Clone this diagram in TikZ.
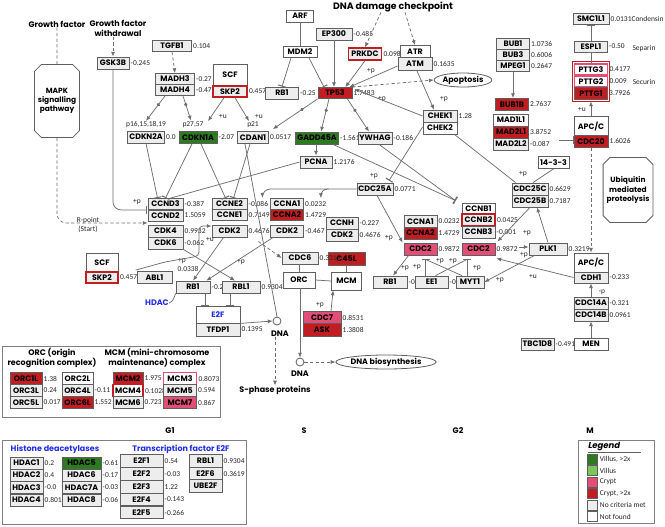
\documentclass[tikz,border=0pt]{standalone}
\usepackage{fontspec}
\setmainfont{Poppins}
\newfontfamily\valfont{Carlito}
\usetikzlibrary{arrows.meta,shapes.misc,shapes.geometric,decorations.markings,calc}
\definecolor{lnc}{RGB}{110,110,110}
\definecolor{bdr}{RGB}{95,95,95}
\definecolor{gfill}{RGB}{237,237,237}
\definecolor{kred}{RGB}{194,30,34}
\definecolor{kpink}{RGB}{226,78,118}
\definecolor{dgrn}{RGB}{46,122,32}
\definecolor{lgrn}{RGB}{122,198,86}
\definecolor{kblue}{RGB}{35,45,225}
\newcommand\gn[5][]{\node[gene,#1] (#2) at (#3,#4) {#5};}
\begin{document}
\begin{tikzpicture}[x=0.75pt,y=-0.75pt,
  gene/.style={draw=bdr,line width=0.6pt,fill=gfill,inner sep=0pt,minimum width=33*0.75pt,minimum height=12*0.75pt,font=\fontsize{5.9}{7}\selectfont\bfseries},
  bw/.style={minimum width=#1*0.75pt},
  bh/.style={minimum height=#1*0.75pt},
  wf/.style={fill=white},
  redf/.style={fill=kred},
  pinkf/.style={fill=kpink},
  grnf/.style={fill=dgrn},
  redb/.style={draw=kred,line width=1.1pt},
  pinkb/.style={draw=kpink,line width=1.1pt},
  val/.style={font=\valfont\fontsize{5.6}{6.5}\selectfont,inner sep=0.8pt,text=black!85},
  vl/.style={label={[val]east:#1}},
  tx/.style={font=\valfont\fontsize{5.6}{6.5}\selectfont,inner sep=0.5pt,text=black!85,align=center},
  ttl/.style={font=\fontsize{6}{7.4}\selectfont\bfseries,inner sep=0pt,align=center},
  oct/.style={draw=bdr,line width=0.6pt,chamfered rectangle,chamfered rectangle xsep=2.6pt,chamfered rectangle ysep=2.6pt,align=center,inner sep=0pt,font=\fontsize{5.6}{6.8}\selectfont\bfseries},
  ell/.style={draw=bdr,line width=0.6pt,ellipse,inner sep=0pt,font=\fontsize{5.9}{7}\selectfont\bfseries},
  ln/.style={draw=lnc,line width=0.55pt},
  arr/.style={ln,-{Latex[length=3.6pt,width=3pt]}},
  inh/.style={ln,-{Bar[width=6pt,line width=0.8pt]}},
  dsh/.style={ln,dash pattern=on 2.4pt off 1.8pt},
  darr/.style={dsh,-{Latex[length=3.6pt,width=3pt]}},
  dotm/.style={postaction={decorate,decoration={markings,mark=at position 0.35 with {\fill[lnc] (0,0) circle[radius=1.4pt];}}}},
  blu/.style={text=kblue},
  frame/.style={draw=bdr!80,line width=0.6pt,inner sep=0pt},
  dnac/.style={circle,draw=bdr,line width=0.6pt,minimum size=8*0.75pt,inner sep=0pt,fill=white},
]
\useasboundingbox (0,0) rectangle (665,526);
\fill[white] (0,0) rectangle (665,526);

% ---------- top left ----------
\node[ttl] (tgf0) at (57,24) {Growth factor};
\node[ttl] (tgfw) at (118,28.5) {Growth factor\\withdrawal};
\node[oct,minimum width=39*0.75pt,minimum height=73*0.75pt] (mapk) at (57,101) {MAPK\\signalling\\pathway};
\gn[bw=32,vl=-0.245]{gsk}{113}{63}{GSK3B}
\gn[bw=39,bh=11,vl=0.104]{tgf}{172}{46}{TGFB1}
\gn[bw=39,bh=11,vl=-0.27]{madh3}{175}{79}{MADH3}
\gn[bw=39,bh=11,vl=-0.472]{madh4}{175}{90}{MADH4}
\gn[bw=34,bh=22,wf]{scfa}{230}{75}{SCF}
\gn[bw=34,bh=11,redb,vl=0.4577]{skpa}{230}{91.5}{SKP2}
\gn[bw=27,wf]{arf}{300}{16}{ARF}
\gn[bw=34,bh=11,wf]{mdm}{300}{52}{MDM2}
\gn[bw=33,vl=-0.25]{rbt}{282}{93}{RB1}
\gn[bw=36,vl=-0.485]{ep}{334}{34}{EP300}
\gn[bw=33,redb,vl=0.0984]{prk}{365}{54}{PRKDC}
\gn[bw=30,wf]{atr}{415}{51.5}{ATR}
\gn[bw=34,bh=13,vl=0.1635]{atm}{415}{64}{ATM}
\gn[bw=34,bh=11,redf,vl=1.7483]{tp}{335}{93}{TP53}
\node[ttl,font=\fontsize{7}{8}\selectfont\bfseries] (ddc) at (393,7) {DNA damage checkpoint};
\node[ell,minimum width=50*0.75pt,minimum height=14*0.75pt] (apop) at (463,80) {Apoptosis};
\gn[bw=34,vl=1.28]{chka}{440}{116}{CHEK1}
\gn[bw=34,wf]{chkb}{440}{128}{CHEK2}
\gn[bw=37,vl=0.0]{p16b}{146}{137}{CDKN2A}
\gn[bw=38,grnf,vl=-2.07]{p27b}{198}{137.5}{CDKN1A}
\gn[bw=31,vl=0.0517]{p21b}{253}{137.5}{CDAN1}
\gn[bw=43,grnf,vl=-1.561]{gad}{317}{138}{GADD45A}
\gn[bw=34,vl=-0.186]{ywh}{375}{138}{YWHAG}
\gn[bw=32,vl=1.2176]{pcna}{316}{162}{PCNA}
\node[tx] (p16) at (146,125) {p16,15,18,19};
\node[tx] (p27) at (193,124.5) {p27,57};
\node[tx] (p21) at (253,125) {p21};
\node[tx] (u1) at (223,116) {+u};
\node[tx] (u2) at (259,116) {+u};
\node[tx] (pp1) at (371,71) {+p};
\node[tx] (pp2) at (382,99) {+p};
\node[tx] (pp3) at (444,99) {+p};

% ---------- top right ----------
\gn[bw=33,bh=11,vl=1.0736]{bub1}{513}{44}{BUB1}
\gn[bw=33,bh=11,vl=0.6006]{bub3}{513}{55}{BUB3}
\gn[bw=33,bh=11,vl=0.2647]{mpeg}{513}{66}{MPEG1}
\gn[bw=33,redf,vl=2.7637]{bub1b}{512}{104.5}{BUB1B}
\gn[bw=35,wf]{mad1}{511}{120}{MAD1L1}
\gn[bw=35,redf,vl=3.8752]{mad2a}{511}{132}{MAD2L1}
\gn[bw=35,vl=-0.087]{mad2b}{511}{144}{MAD2L2}
\gn[bw=36,bh=11,vl=0.0131Condensin]{smc}{591}{19}{SMC1L1}
\gn[bw=33,bh=11,vl=-0.50]{espl}{591}{46.5}{ESPL1}
\node[tx] (sep) at (644,49) {Separin};
\gn[bw=33,bh=11,wf,pinkb,vl=0.4177]{pt3}{591}{69.5}{PTTG3}
\gn[bw=33,bh=11,wf,pinkb,vl=0.009]{pt2}{591}{81.5}{PTTG2}
\gn[bw=33,bh=12,redf,vl=3.7926]{pt1}{591}{93.5}{PTTG1}
\draw[kred,line width=0.8pt] ($(pt3.north west)+(-1.5,-1.5)$) rectangle ($(pt1.south east)+(1.5,1.5)$);
\node[tx] (secu) at (644,82) {Securin};
\gn[bw=34,bh=19,wf]{apca}{591}{126}{APC/C}
\gn[bw=34,redf,vl=1.6026]{cdc20}{591}{141.5}{CDC20}
\gn[bw=31,wf]{b1433}{553.5}{162.5}{14-3-3}
\node[oct,minimum width=49*0.75pt,minimum height=65*0.75pt] (ubq) at (628,190) {Ubiquitin\\mediated\\proteolysis};
\gn[bw=36,vl=0.6629]{c25c}{530}{189}{CDC25C}
\gn[bw=36,vl=0.7187]{c25b}{530}{201}{CDC25B}
\gn[bw=38,vl=0.3219]{plk}{548}{249}{PLK1}
\gn[bw=34,bh=19,wf]{apcb}{591}{262.5}{APC/C}
\gn[bw=34,bh=11,vl=-0.233]{cdh}{591}{277.5}{CDH1}
\gn[bw=34,vl=-0.321]{c14a}{591}{303}{CDC14A}
\gn[bw=34,vl=0.0961]{c14b}{591}{315}{CDC14B}
\gn[bw=34,wf]{men}{591}{344}{MEN}
\gn[bw=33,vl=-0.491]{tbc}{537.5}{344}{TBC1D8}

% ---------- G2 ----------
\gn[bw=36,vl=0.0771]{c25a}{375}{189}{CDC25A}
\gn[bw=33,bh=11,wf]{cb1}{478.5}{208.5}{CCNB1}
\gn[bw=33,redb,vl=0.0425]{cb2}{478.5}{220}{CCNB2}
\gn[bw=33,vl=-0.001]{cb3}{478.5}{232}{CCNB3}
\gn[bw=33,pinkf,vl=0.9872]{c2r}{478.5}{249}{CDC2}
\gn[bw=33,vl=0.0232]{ca1g}{420.5}{221.5}{CCNA1}
\gn[bw=33,redf,vl=1.4729]{ca2g}{420.5}{233}{CCNA2}
\gn[bw=33,pinkf,vl=0.9872]{c2l}{420.5}{249}{CDC2}
\gn[bw=34,vl=-0.25]{rbg}{390}{282}{RB1}
\gn[bw=33,vl=-0.0]{ee}{431.5}{282}{EE1}
\gn[bw=28]{myt}{470}{282}{MYT1}

% ---------- S ----------
\gn[bw=37,bh=13,redf]{c45}{346.5}{258.5}{C45L}
\gn[bw=36,vl=0.3319]{cdc6}{300}{258}{CDC6}
\gn[bw=32,bh=16,wf]{orc}{299}{280}{ORC}
\gn[bw=30,bh=18,wf]{mcm}{346.5}{281}{MCM}
\gn[bw=38,pinkf,vl=0.8531]{cdc7}{322}{317.5}{CDC7}
\gn[bw=38,bh=13,redf,vl=1.3808]{ask}{322}{330}{ASK}
\node[dnac] (dna1) at (277,321) {};
\node[ttl] (dna1t) at (280,333.5) {DNA};
\node[dnac] (dna2) at (300,362) {};
\node[ttl] (dna2t) at (300,373.5) {DNA};
\node[ttl] (sph) at (275,390) {S-phase proteins};
\node[ell,minimum width=72*0.75pt,minimum height=14*0.75pt] (dnab) at (386,362) {DNA biosynthesis};

% ---------- G1 ----------
\gn[bw=35,bh=11,vl=-0.387]{cd3}{165.5}{204}{CCND3}
\gn[bw=35,bh=11,vl=1.5059]{cd2}{165.5}{215.5}{CCND2}
\gn[bw=35,vl=0.9932]{k4}{165.5}{231}{CDK4}
\gn[bw=35,vl=-0.062]{k6}{165.5}{243}{CDK6}
\gn[bw=35,bh=11,vl=-0.086]{ce2}{229.5}{204}{CCNE2}
\gn[bw=35,bh=11,vl=0.7149]{ce1}{229.5}{215}{CCNE1}
\gn[bw=35,vl=0.4676]{k2e}{229.5}{231}{CDK2}
\gn[bw=33,bh=11,vl=0.0232]{ca1}{287}{204}{CCNA1}
\gn[bw=33,bh=11,redf,vl=1.4729]{ca2}{287}{215}{CCNA2}
\gn[bw=33,vl=-0.467]{k2a}{287}{231}{CDK2}
\gn[bw=32,vl=-0.227]{ccnh}{342}{223}{CCNH}
\gn[bw=32,vl=0.4676]{k2h}{342}{235}{CDK2}
\node[tx] (pp4) at (389,238) {+p};
\gn[bw=32,bh=19,wf]{scfb}{102}{262.5}{SCF}
\gn[bw=32,bh=11,redb,vl=0.4577]{skpb}{102}{277.5}{SKP2}
\gn[bw=35]{abl}{154.5}{277.5}{ABL1}
\node[tx] (v0338) at (188,268.5) {0.0338};
\gn[bw=34,vl=-0.2]{rb1}{193}{287}{RB1}
\gn[bw=38,vl=0.9304]{rbl}{241}{287}{RBL1}
\node[ttl,blu] (hdac) at (157,303) {HDAC};
\gn[bw=44,bh=17,wf,blu]{e2f}{218}{314.5}{E2F}
\gn[bw=44,bh=13,vl=0.1395]{tfdp}{218}{329.5}{TFDP1}
\node[tx] (rpt) at (88,225) {R-point\\(Start)};
\node[tx] (pp5) at (137,202) {+p};
\node[tx] (uu3) at (210,239) {+u};
\node[tx] (pp6) at (182,261) {+p};
\node[tx] (pp7) at (241,262) {+p};

% ---------- bottom panels ----------
\node[frame,minimum width=218*0.75pt,minimum height=71*0.75pt] (orcbox) at (111,381.5) {};
\node[ttl] (orct) at (52,358) {ORC (origin\\recognition complex)};
\node[ttl] (mcmt) at (157,358) {MCM (mini-chromosome\\maintenance) complex};
\gn[bw=32,bh=11.5,redf,vl=1.38]{o1}{26}{378.5}{ORC1L}
\gn[bw=32,bh=11.5,vl=0.24]{o3}{26}{390.5}{ORC3L}
\gn[bw=32,bh=11.5,vl=0.017]{o5}{26}{402.5}{ORC5L}
\gn[bw=31,bh=11.5,wf]{o2}{77.5}{378.5}{ORC2L}
\gn[bw=31,bh=11.5,vl=-0.11]{o4}{77.5}{390.5}{ORC4L}
\gn[bw=31,bh=11.5,redf,vl=1.552]{o6}{77.5}{402.5}{ORC6L}
\gn[bw=30,bh=11.5,redf,vl=1.975]{m2}{128}{378.5}{MCM2}
\gn[bw=30,bh=11.5,wf,redb,vl=0.1028]{m4}{128}{390.5}{MCM4}
\gn[bw=30,bh=11.5,vl=0.723]{m6}{128}{402.5}{MCM6}
\gn[bw=33,bh=11.5,wf,pinkb,vl=0.8073]{m3}{180}{378.5}{MCM3}
\gn[bw=33,bh=11.5,vl=0.594]{m5}{180}{390.5}{MCM5}
\gn[bw=33,bh=11.5,pinkf,vl=0.867]{m7}{180}{402.5}{MCM7}

\node[frame,minimum width=244*0.75pt,minimum height=84*0.75pt] (hdbox) at (124,482) {};
\node[ttl,blu] (hdt) at (55,449) {Histone deacetylases};
\node[ttl,blu] (e2t) at (181,449) {Transcription factor E2F};
\gn[bw=33,vl=0.2]{h1}{26.5}{463}{HDAC1}
\gn[bw=33,vl=0.4]{h2}{26.5}{475}{HDAC2}
\gn[bw=33,vl=-0.0]{h3}{26.5}{487.5}{HDAC3}
\gn[bw=33,vl=0.801]{h4}{26.5}{500}{HDAC4}
\gn[bw=39,grnf,vl=-0.61]{h5}{81.5}{463}{HDAC5}
\gn[bw=39,vl=-0.17]{h6}{81.5}{475}{HDAC6}
\gn[bw=39,vl=-0.03]{h7}{81.5}{487.5}{HDAC7A}
\gn[bw=39,vl=-0.06]{h8}{81.5}{500}{HDAC8}
\gn[bw=43,bh=12.5,vl=0.54]{f1}{141.5}{461}{E2F1}
\gn[bw=43,bh=12.5,vl=-0.03]{f2}{141.5}{474}{E2F2}
\gn[bw=43,bh=12.5,vl=1.22]{f3}{141.5}{487}{E2F3}
\gn[bw=43,bh=12.5,vl=-0.143]{f4}{141.5}{499.5}{E2F4}
\gn[bw=43,bh=12.5,vl=-0.266]{f5}{141.5}{512.5}{E2F5}
\gn[bw=33,bh=12.5,vl=0.9304]{rblb}{205.5}{461}{RBL1}
\gn[bw=33,bh=12.5,vl=0.3619]{f6}{205.5}{473.5}{E2F6}
\gn[bw=33,bh=12.5]{ube}{205.5}{486}{UBE2F}

\node[ttl] (g1) at (170,431) {G1};
\node[ttl] (gs) at (304,431) {S};
\node[ttl] (g2) at (458,431) {G2};
\node[ttl] (gm) at (590,431) {M};

% legend
\node[frame,minimum width=76*0.75pt,minimum height=83*0.75pt] (lgb) at (616,481.5) {};
\node[font=\fontsize{6.4}{8}\selectfont\bfseries\itshape,anchor=west,inner sep=0pt] (lgt) at (588,447) {Legend};
\draw[bdr,line width=0.6pt] (588,452.5) -- (641,452.5);
\foreach \c/\t/\y/\n in {dgrn/{Villus, >2x}/459/1, lgrn/Villus/470.5/2, kpink/Crypt/482/3, kred/{Crypt, >2x}/493.5/4, gfill/No criteria met/505/5, white/Not found/516.5/6}{
  \node[draw=bdr,line width=0.5pt,fill=\c,minimum size=10*0.75pt,inner sep=0pt] (sw\n) at (592,\y) {};
  \node[tx,anchor=west] (swt\n) at (599,\y) {\t};
}

% ---------- connectors ----------
\draw[dsh] (tgf0) -- (mapk);
\draw[darr,rounded corners=7pt] (mapk.south) |- ($(cd2.south west)!0.5!(k4.north west)$);
\draw[darr] (gsk.north |- tgfw.south) -- (gsk.north);
\draw[inh,rounded corners=6pt] (gsk.south) |- ($(cd3.south west)+(-1,0)$);
\draw[darr] (tgf.south) -- (madh3.north);
\draw[arr,dotm] ($(madh4.south)+(-10,0)$) -- (p16.north);
\draw[arr,dotm] ($(madh4.south)+(8,0)$) -- ($(p27.north)+(-2,0)$);
\draw[arr] ($(skpa.south)+(-6,0)$) -- ($(p27b.north)+(10,-10)$);
\draw[arr] ($(skpa.south)+(5,0)$) -- ($(p21.north)+(-4,0)$);
\draw[ln] (arf) -- (mdm);
\draw[inh] ($(mdm.south)+(-9,0)$) -- (rbt.north);
\draw[inh] ($(mdm.south)+(9,0)$) -- ($(tp.north)+(-11,0)$);
\draw[arr] (ep.south) -- (ep.south |- tp.north);
\draw[arr] (prk.south) -- ($(tp.north east)+(-7,0)$);
\draw[arr] ($(atm.west)+(0,2)$) -- ($(tp.north east)+(-3,0)$);
\draw[darr] (tp.north east) -- (apop.west);
\draw[darr] ($(ddc.south)+(-12,0)$) -- (prk.north);
\draw[darr] ($(ddc.south)+(12,0)$) -- (atr.north);
\draw[arr] ($(atm.south)+(2,0)$) -- ($(chka.north)+(-6,0)$);
\draw[arr] (chka.west) -- ($(tp.north east)+(2,2)$);
\draw[arr,dotm] (tp.south west) -- ($(p21b.north east)+(4,-2)$);
\draw[arr,dotm] ($(tp.south)+(-6,0)$) -- ($(gad.north)+(4,0)$);
\draw[arr,dotm] ($(tp.south east)+(-5,0)$) -- ($(ywh.north)+(-6,0)$);
\draw[arr] (pcna.north |- gad.south) -- (pcna.north);
\draw[arr] (mpeg.south) -- (mpeg.south |- bub1b.north);
\coordinate (madr) at (559,140);
\draw[inh] (madr) -- (madr -| cdc20.west);
\draw[inh] (espl.north) -- (smc.south);
\draw[inh] (pt3.north) -- (espl.south);
\draw[arr] (apca.north) -- ($(pt1.south)+(0,1.5)$);
\node[tx] (uu4) at (582,109.5) {+u};
\draw[darr] (cdc20.south) -- (apcb.north);
\draw[ln] (b1433.south) -- ($(c25c.north)+(3,0)$);
\draw[ln] ($(chkb.south east)+(-3,0)$) -- ($(c25c.north west)+(4,0)$);
\node[tx] (pp8) at (523,174) {+p};
\draw[arr] (plk.north) -- ($(c25b.south)+(7,0)$);
\draw[arr] (c25b.south) -- ($(c2r.north east)+(2,-1)$);
\node[tx] (pp10) at (527,233) {+p};
\coordinate (c2pl) at (519,247);
\draw[arr] (c2pl) -- (c2pl -| plk.west);
\node[tx] (pp11) at (524,255) {+p};
\draw[arr] (cdh.west) -- ($(c2r.south east)+(1,3)$);
\node[tx] (uu5) at (533,276) {+u};
\draw[arr] ($(plk.south west)+(6,0)$) -- (myt.east);
\node[tx] (pp12) at (500,280) {+p};
\draw[arr] (c14a.north) -- (cdh.south);
\node[tx] (mp) at (602,292) {-p};
\draw[arr] (men.north) -- (c14b.south);
\draw[arr] ($(c25a.south)+(2,0)$) -- ($(c2l.north west)+(-1,0)$);
\draw[inh] ($(chkb.west)+(0,-1)$) -- ($(c25a.north)+(14,-2)$);
\node[tx] (pp13) at (374,176) {+p};
\draw[arr] ($(c2l.south west)+(5,0)$) -- ($(rbg.north)+(3,0)$);
\node[tx] (pp14) at (405,268) {+p};
\coordinate (bl) at ($(c2l.south)+(5,4)$);
\coordinate (br) at ($(c2r.south)+(-11.5,4)$);
\draw[inh] (bl |- ee.north) -- (bl);
\draw[ln] ($(ee.north)+(4,0)$) -- (br);
\draw[inh] (br |- myt.north) -- (br);
\draw[ln] ($(myt.north)+(-8,0)$) -- (bl);
\node[tx] (pp16) at (417,267) {+p};
\node[tx] (pp17) at (440,261) {+p};
\node[tx] (pp18) at (453,261) {+p};
\node[tx] (pp19) at (477,268) {+p};
\coordinate (cbb) at ($(cb1.north west)+(-6,-2)$);
\draw[inh] ($(gad.south east)+(-6,0)$) -- (cbb);
\draw[inh] ($(ywh.south)+(4,0)$) -- (cbb);
\draw[arr,rounded corners=6pt] (c25a.west) -| ($(ce2.north east)+(15,-0.5)$);
\draw[arr,rounded corners=5pt] ($(c25a.west)+(-28,0)$) -| ($(ca1.north east)+(17,0)$);
\draw[inh] (p16b.south) -- ($(cd3.north)+(-8,0)$);
\draw[inh] ($(p27b.south)+(-6,0)$) -- (cd3.north);
\draw[ln] (pcna.west) -- ($(cd3.north)+(5,0)$);
\draw[inh] ($(p27b.south)+(3,0)$) -- ($(ce2.north)+(-4,0)$);
\draw[inh] ($(p21b.south)+(-3,0)$) -- ($(ce2.north)+(4,0)$);
\draw[ln] ($(p21b.south)+(-8,0)$) -- (dna1.north);
\coordinate (sks) at ($(abl.north west)+(-1,-1)$);
\draw[arr,rounded corners=3pt] (sks) -- (165,262) -- (199,256) -- (199,226) -- ($(k2e.west)+(0,-5)$);
\draw[arr] ($(k2e.south)+(-6,0)$) -- (rb1.north);
\draw[arr] ($(k2a.south west)+(3,0)$) -- ($(rb1.north east)+(-4,0)$);
\draw[arr] (k6.south east) -- ($(rbl.north)+(-6,0)$);
\draw[ln] (hdac.east) to[out=20,in=-110] (rb1.south west);
\draw[inh] ($(rb1.south)+(12,0)$) -- ($(e2f.north)+(-13,0)$);
\draw[inh] ($(rbl.south)+(-11,0)$) -- ($(e2f.north)+(12,0)$);
\draw[arr] (e2f.south east) -- (dna1.west);
\draw[darr] (sph.north |- dna1t.south) -- (sph.north);
\draw[darr] ($(k2e.south east)+(11,4)$) -- (cdc6.west);
\draw[ln] (orc.north |- cdc6.south) -- (orc.north);
\draw[ln] (orc.east) -- (mcm.west);
\draw[ln] (mcm.north |- c45.south) -- (mcm.north);
\draw[arr] ($(cdc7.north)+(9,0)$) -- ($(mcm.south west)+(2,0)$);
\node[tx] (pp15) at (320,305) {+p};
\draw[arr] (dna2.north |- orc.south) -- (dna2.north);
\draw[darr] (dna2.east) -- (dnab.west);
\end{tikzpicture}
\end{document}
